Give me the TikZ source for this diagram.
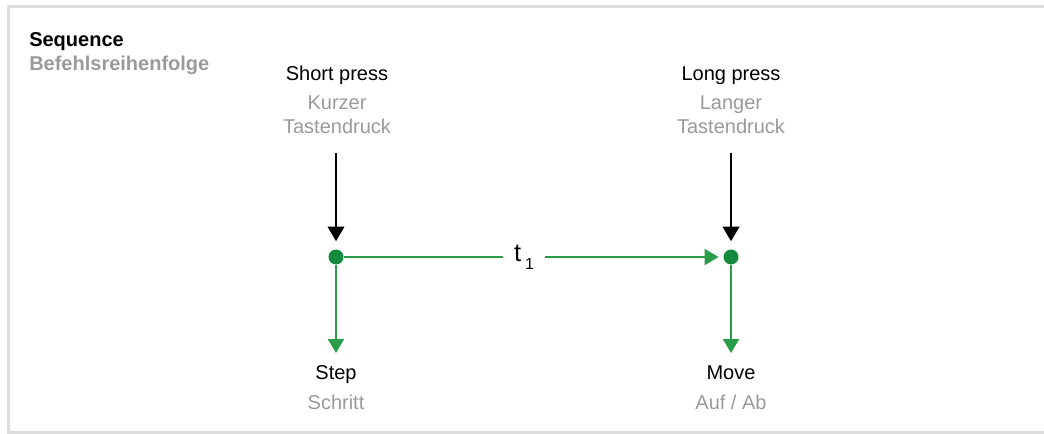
\documentclass[tikz,border=0pt]{standalone}
\usepackage{fontspec}
\setmainfont{Liberation Sans}
\usetikzlibrary{arrows.meta}
\definecolor{framegray}{HTML}{DDDDDD}
\definecolor{txtgray}{HTML}{9A9A9A}
\definecolor{lgreen}{HTML}{2A9D48}
\definecolor{dgreen}{HTML}{138A3C}
\tikzset{
  lbl/.style={anchor=base, inner sep=0pt, align=center, font=\fontsize{15pt}{18pt}\selectfont, text=black},
  sublbl/.style={lbl, text=txtgray},
  dot/.style={circle, fill=dgreen, minimum size=11.25pt, inner sep=0pt},
  blackarrow/.style={draw=black, line width=1.5pt, -{Triangle[width=12.5pt,length=11pt]}},
  greenarrow/.style={draw=lgreen, line width=1.5pt, -{Triangle[width=12pt,length=10.5pt]}, color=lgreen},
  greenline/.style={draw=lgreen, line width=1.5pt},
}
\begin{document}
\begin{tikzpicture}[x=0.75pt,y=-0.75pt]
\useasboundingbox (0,0) rectangle (1044,434);
% frame
\draw[framegray, line width=2.25pt] (1060,7) -- (8.5,7) -- (8.5,432.5) -- (1060,432.5);
% title
\node[lbl, anchor=base west, font=\bfseries\fontsize{15pt}{18pt}\selectfont] (seq) at (29,47) {Sequence};
\node[lbl, anchor=base west, text=txtgray, font=\bfseries\fontsize{15pt}{18pt}\selectfont] (befehl) at (29,71) {Befehlsreihenfolge};
% top labels
\node[lbl] (short) at (337,81) {Short press};
\node[sublbl] (kurz) at (337,134) {Kurzer\\Tastendruck};
\node[lbl] (long) at (731,81) {Long press};
\node[sublbl] (lang) at (731,134) {Langer\\Tastendruck};
% bottom labels
\node[lbl] (step) at (336,379) {Step};
\node[sublbl] (schritt) at (336,409) {Schritt};
\node[lbl] (move) at (731,379) {Move};
\node[sublbl] (aufab) at (731,409) {Auf / Ab};
% dots
\node[dot] (L) at (336,257) {};
\node[dot] (R) at (731,257) {};
% arrow starts / ends
\coordinate (Ltop) at (336,153);
\coordinate (Rtop) at (731,153);
\coordinate (Ldown) at (336,353);
\coordinate (Rdown) at (731,353);
% t1 label
\node[inner sep=0pt, text width=31.5pt, align=center, font=\fontsize{19pt}{20pt}\selectfont] (t1) at (524,257) {t\kern3pt\raisebox{-6pt}{\fontsize{12pt}{13pt}\selectfont 1}};
% connectors
\draw[blackarrow, shorten >=6pt] (Ltop) -- (L);
\draw[blackarrow, shorten >=6pt] (Rtop) -- (R);
\draw[greenline] (L) -- (t1.west);
\draw[greenarrow, shorten >=3.5pt] (t1.east) -- (R);
\draw[greenarrow] (L) -- (Ldown);
\draw[greenarrow] (R) -- (Rdown);
\end{tikzpicture}
\end{document}
